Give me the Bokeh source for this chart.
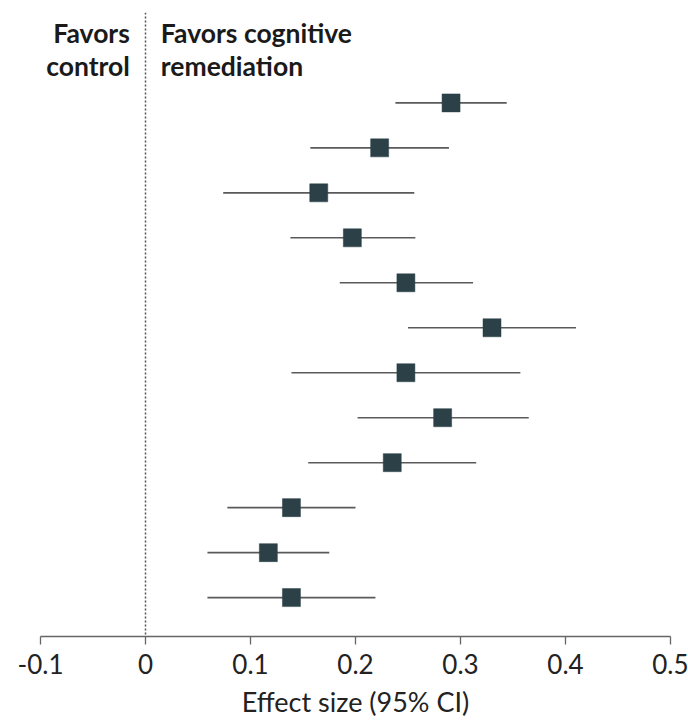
from bokeh.plotting import figure
from bokeh.models import Range1d, FixedTicker, Span, ColumnDataSource
from bokeh.core.properties import value
from bokeh.embed import file_html
from bokeh.resources import INLINE

# Data (top row first)
estimates = [0.291, 0.223, 0.165, 0.197, 0.248, 0.330, 0.248, 0.283, 0.235, 0.139, 0.117, 0.139]
ci_low    = [0.238, 0.157, 0.074, 0.138, 0.185, 0.250, 0.139, 0.202, 0.155, 0.078, 0.059, 0.059]
ci_high   = [0.344, 0.289, 0.256, 0.257, 0.312, 0.410, 0.357, 0.365, 0.315, 0.200, 0.175, 0.219]
tick_values = [-0.1, 0, 0.1, 0.2, 0.3, 0.4, 0.5]
tick_labels = ["-0.1", "0", "0.1", "0.2", "0.3", "0.4", "0.5"]
x_title = "Effect size (95% CI)"
left_header = ["Favors", "control"]
right_header = ["Favors cognitive", "remediation"]

n = len(estimates)
rows = [n - i for i in range(n)]  # top row at y = n

src = ColumnDataSource(dict(y=rows, est=estimates, lo=ci_low, hi=ci_high))

FONT = "Lato"

p = figure(width=688, height=720, output_backend="svg", toolbar_location=None,
           x_range=Range1d(-0.1, 0.5), y_range=Range1d(0.135, 14.01),
           min_border_left=40, min_border_right=18, min_border_top=12, min_border_bottom=83)
p.outline_line_color = None
p.grid.visible = False
p.yaxis.visible = False
p.background_fill_color = "white"
p.border_fill_color = "white"

xa = p.xaxis[0]
xa.ticker = FixedTicker(ticks=tick_values)
xa.major_label_overrides = {v: l for v, l in zip(tick_values, tick_labels)}
xa.minor_tick_line_color = None
xa.major_tick_in = 0
xa.major_tick_out = 8
xa.axis_line_color = "#666666"
xa.major_tick_line_color = "#666666"
xa.axis_line_width = 1.3
xa.major_tick_line_width = 1.3
xa.major_label_text_font = FONT
xa.major_label_text_font_size = "26px"
xa.major_label_text_color = "#222222"
xa.major_label_standoff = 9
xa.axis_label = x_title
xa.axis_label_text_font = FONT
xa.axis_label_text_font_size = "27px"
xa.axis_label_text_font_style = "normal"
xa.axis_label_text_color = "#222222"
xa.axis_label_standoff = 8

p.add_layout(Span(location=0, dimension="height", line_color="#555555",
                  line_width=1.5, line_dash="2 2"))

p.segment(x0="lo", y0="y", x1="hi", y1="y", source=src, line_color="#5a5a5a", line_width=1.6)
p.scatter(x="est", y="y", source=src, marker="square", size=18,
          fill_color="#2b4047", line_color="#2b4047", line_width=0.5)

# Header texts
p.text(x=[-0.0149, -0.0149], y=[13.559, 12.818], text=left_header,
       text_align="right", text_baseline="alphabetic",
       text_font=value(FONT), text_font_size="26.5px", text_font_style="bold",
       text_color="#1a1a1a")
p.text(x=[0.0146, 0.0146], y=[13.559, 12.818], text=right_header,
       text_align="left", text_baseline="alphabetic",
       text_font=value(FONT), text_font_size="26.5px", text_font_style="bold",
       text_color="#1a1a1a")

open("out.html", "w").write(file_html(p, INLINE))
